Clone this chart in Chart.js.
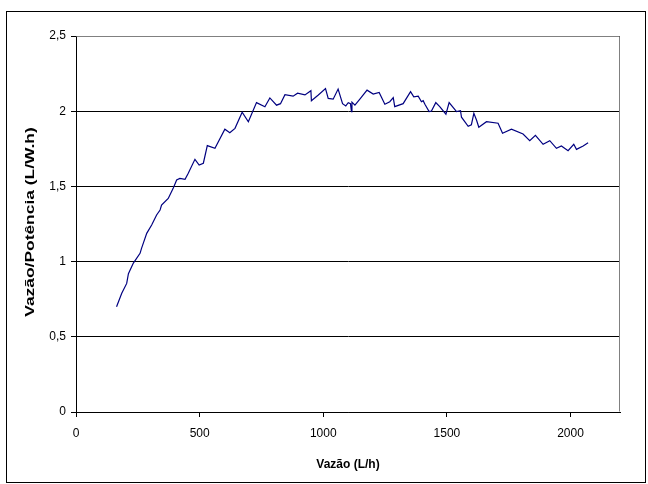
<!DOCTYPE html>
<html>
<head>
<meta charset="utf-8">
<script src="https://cdn.jsdelivr.net/npm/chart.js@4/dist/chart.umd.min.js"></script>
<style>
html,body{margin:0;padding:0;background:#fff;}
#wrap{width:648px;height:484px;position:relative;}
</style>
</head>
<body>
<div id="wrap"><canvas id="c" width="648" height="484"></canvas></div>
<script>
const flowValues = [164,185,205,212,232,259,265,286,306,326,340,346,373,393,407,420,441,454,481,498,515,531,562,602,622,643,672,697,730,764,784,811,827,845,878,896,926,950,952,980,1009,1020,1040,1060,1078,1091,1101,1110,1114,1116,1128,1148,1177,1202,1226,1249,1269,1283,1289,1323,1353,1366,1384,1397,1404,1411,1428,1437,1455,1471,1496,1509,1539,1555,1559,1586,1599,1609,1620,1629,1660,1707,1725,1761,1808,1835,1858,1889,1916,1943,1963,1990,2013,2024,2051,2071];
const ratioValues = [0.70,0.79,0.855,0.92,0.99,1.055,1.088,1.188,1.243,1.31,1.343,1.376,1.42,1.487,1.543,1.553,1.547,1.587,1.68,1.642,1.654,1.771,1.753,1.88,1.857,1.886,1.993,1.93,2.057,2.03,2.088,2.04,2.05,2.11,2.10,2.12,2.108,2.136,2.07,2.108,2.15,2.085,2.08,2.147,2.05,2.035,2.057,2.05,1.997,2.06,2.04,2.08,2.14,2.114,2.125,2.046,2.063,2.09,2.03,2.05,2.13,2.096,2.10,2.063,2.07,2.046,1.997,2.0,2.057,2.03,1.98,2.057,1.997,2.003,1.96,1.90,1.91,1.986,1.94,1.893,1.93,1.92,1.853,1.88,1.848,1.804,1.84,1.78,1.804,1.753,1.769,1.737,1.78,1.746,1.769,1.79];
const xTicks = [0,500,1000,1500,2000];
const yTicks = [0,0.5,1,1.5,2,2.5];
const xTitle = 'Vazão (L/h)';
const yTitle = 'Vazão/Potência (L/W.h)';

const points = flowValues.map((v,i)=>({x:v,y:ratioValues[i]}));
const FONT = "'Liberation Sans', Arial, sans-serif";

const framePlugin = {
  id:'frame',
  beforeDraw(chart){
    const ctx = chart.ctx;
    ctx.save();
    ctx.fillStyle='#fff';
    ctx.fillRect(0,0,chart.width,chart.height);
    ctx.strokeStyle='#000';
    ctx.lineWidth=1;
    ctx.strokeRect(6.5,11.5,639,471);
    ctx.restore();
  },
  afterDatasetsDraw(chart){
    const a = chart.chartArea, ctx = chart.ctx;
    ctx.save();
    ctx.strokeStyle='#808080';
    ctx.lineWidth=1;
    ctx.beginPath();
    ctx.moveTo(Math.round(a.left)+0.5, Math.round(a.top)+0.5);
    ctx.lineTo(Math.round(a.right)-0.5, Math.round(a.top)+0.5);
    ctx.lineTo(Math.round(a.right)-0.5, Math.round(a.bottom)-0.5);
    ctx.stroke();
    ctx.restore();
  },
  afterDraw(chart){
    const ctx = chart.ctx;
    ctx.save();
    ctx.translate(31, 222);
    ctx.rotate(-Math.PI/2);
    ctx.scale(1.45, 1);
    ctx.font = "bold 12px " + FONT;
    ctx.fillStyle = '#000';
    ctx.textAlign = 'center';
    ctx.textBaseline = 'middle';
    ctx.fillText(yTitle, 0, 0);
    ctx.restore();
  }
};

new Chart(document.getElementById('c'), {
  type:'scatter',
  data:{datasets:[{
    data:points,
    showLine:true,
    borderColor:'#000080',
    borderWidth:1.2,
    pointRadius:0,
    tension:0,
    fill:false
  }]},
  options:{
    responsive:false,
    animation:false,
    devicePixelRatio:1,
    layout:{padding:{left:0,right:28,top:36,bottom:0}},
    plugins:{legend:{display:false},tooltip:{enabled:false}},
    scales:{
      x:{
        type:'linear',min:0,max:2200,
        afterBuildTicks(s){ s.ticks = xTicks.map(v=>({value:v})); },
        afterFit(s){ s.height = 72; },
        grid:{drawOnChartArea:false,drawTicks:true,tickLength:5,color:'#000'},
        border:{color:'#000',width:1},
        ticks:{color:'#000',font:{family:FONT,size:12},padding:9,maxRotation:0,
          callback:v=>String(v)},
        title:{display:true,text:xTitle,color:'#000',font:{family:FONT,size:12,weight:'bold'},padding:{top:0,bottom:12}}
      },
      y:{
        type:'linear',min:0,max:2.5,
        afterBuildTicks(s){ s.ticks = yTicks.map(v=>({value:v})); },
        afterFit(s){ s.width = 76; },
        grid:{color:'#000',lineWidth:1,drawTicks:true,tickLength:5},
        border:{color:'#000',width:1},
        ticks:{color:'#000',font:{family:FONT,size:12},padding:5,
          callback:v=>String(v).replace('.',',')},
        title:{display:false}
      }
    }
  },
  plugins:[framePlugin]
});
</script>
</body>
</html>
